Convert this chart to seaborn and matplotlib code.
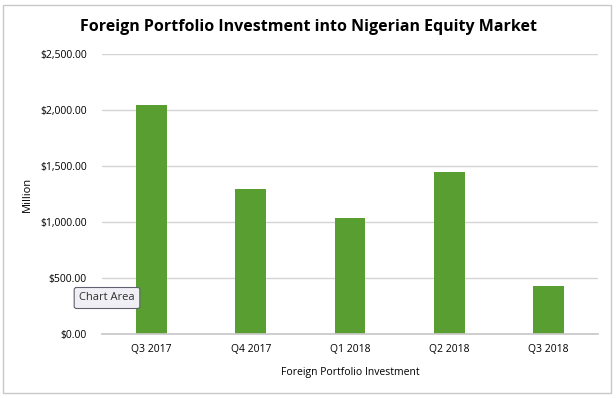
import matplotlib
matplotlib.use("Agg")
import matplotlib.pyplot as plt
import seaborn as sns
import pandas as pd
from matplotlib.patches import Rectangle

# Chart data
quarters = ["Q3 2017", "Q4 2017", "Q1 2018", "Q2 2018", "Q3 2018"]
fpi_million = [2045, 1295, 1036, 1446, 429]
y_ticks = [0, 500, 1000, 1500, 2000, 2500]

df = pd.DataFrame({"quarter": quarters, "value": fpi_million})

sns.set_theme(style="white")
plt.rcParams['font.family'] = ['Open Sans', 'DejaVu Sans']
plt.rcParams['text.color'] = 'black'
plt.rcParams['axes.labelcolor'] = 'black'
plt.rcParams['xtick.color'] = 'black'
plt.rcParams['ytick.color'] = 'black'

fig = plt.figure(figsize=(6.16, 3.98), dpi=100)
ax = fig.add_axes([102 / 616, 1 - 334 / 398, 496 / 616, 280 / 398])

sns.barplot(data=df, x="quarter", y="value", color="#589E30", saturation=1,
            width=0.31, linewidth=0, ax=ax)

ax.set_ylim(0, 2500)
ax.set_xlim(-0.5, len(quarters) - 0.5)
ax.set_yticks(y_ticks)
ax.set_yticklabels([f"${v:,.2f}" for v in y_ticks], fontsize=7.5)
ax.tick_params(axis="x", labelsize=7.5, length=0, pad=7)
ax.tick_params(axis="y", length=0, pad=11)
ax.yaxis.grid(True, color="#D4D4D4", linewidth=1)
ax.set_axisbelow(True)
for s in ["top", "right", "left"]:
    ax.spines[s].set_visible(False)
ax.spines["bottom"].set_color("#C8C8C8")

ax.set_xlabel("Foreign Portfolio Investment", fontsize=7.5, labelpad=9)
ax.set_ylabel("Million", fontsize=8, labelpad=5)

fig.text(0.5, 1 - 27 / 398, "Foreign Portfolio Investment into Nigerian Equity Market",
         ha="center", va="center", fontsize=11.5, fontweight="bold")

# outer chart border
fig.patches.append(Rectangle((3 / 616, 5 / 398), 608 / 616, 388 / 398,
                             transform=fig.transFigure, fill=False,
                             edgecolor="#C8C8C8", linewidth=1))

# Excel "Chart Area" tooltip
fig.text(107 / 616, 1 - 298 / 398, "Chart Area", ha="center", va="center",
         fontsize=8, color="#303030",
         bbox=dict(boxstyle="round,pad=0.45,rounding_size=0.2",
                   facecolor="#EFEFF5", edgecolor="#606070", linewidth=0.8))

fig.savefig("out.png", dpi=100)
